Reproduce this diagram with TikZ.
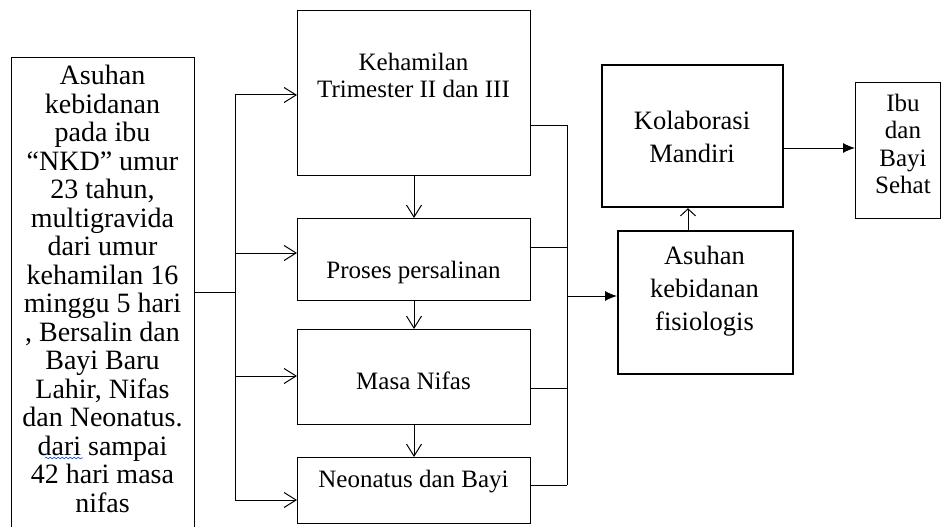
\documentclass[tikz,border=0pt]{standalone}
\usepackage{fontspec}
\setmainfont{Liberation Serif}
\usetikzlibrary{arrows.meta,decorations.pathmorphing}
\begin{document}
\begin{tikzpicture}[x=1pt,y=-1pt,
  conn/.style={line width=1pt},
  box/.style={draw, line width=1pt, inner sep=0pt, anchor=north west},
  thickbox/.style={draw, line width=2.2pt, inner sep=0pt, anchor=north west},
  openarr/.style={conn, -{Straight Barb[length=12pt,width=15pt,line width=1pt]}},
  fillarr/.style={conn, -{Latex[length=12pt,width=10pt]}},
  lefttxt/.style={align=center, font=\fontsize{28}{28.5}\selectfont},
  midtxt/.style={align=center, font=\fontsize{25}{27}\selectfont},
  righttxt/.style={align=center, font=\fontsize{26.5}{33}\selectfont},
  ibutxt/.style={align=center, font=\fontsize{25}{27.5}\selectfont},
]
\useasboundingbox (0,0) rectangle (943,527);

% left box
\node[box, minimum width=183pt, minimum height=490pt] (L) at (11,57) {};
\node[lefttxt] (Lt) at (102.5,289) {Asuhan\\kebidanan\\pada ibu\\“NKD” umur\\23 tahun,\\multigravida\\dari umur\\kehamilan 16\\minggu 5 hari\\, Bersalin dan\\Bayi Baru\\Lahir, Nifas\\dan Neonatus.\\dari sampai\\42 hari masa\\nifas};
\draw[blue!70!cyan, line width=0.6pt, decorate, decoration={snake, amplitude=0.8pt, segment length=4pt}] (45,458) -- (83,458);

% middle boxes
\node[box, minimum width=233pt, minimum height=165pt] (k1) at (297,10) {};
\node[box, minimum width=233pt, minimum height=82pt] (k2) at (297,218) {};
\node[box, minimum width=233pt, minimum height=95pt] (k3) at (297,329) {};
\node[box, minimum width=233pt, minimum height=66pt] (k4) at (297,457) {};
\node[midtxt] (k1t) at (413.5,75.5) {Kehamilan\\Trimester II dan III};
\node[midtxt] (k2t) at (413.5,272) {Proses persalinan};
\node[midtxt] (k3t) at (413.5,381) {Masa Nifas};
\node[midtxt] (k4t) at (413.5,482) {Neonatus dan Bayi};

% right boxes
\node[thickbox, minimum width=181pt, minimum height=142pt] (kol) at (601,64) {};
\node[righttxt] (kolt) at (692,136.5) {Kolaborasi\\Mandiri};
\node[thickbox, minimum width=175pt, minimum height=143pt] (af) at (617,230) {};
\node[righttxt] (aft) at (704.5,291.5) {Asuhan\\kebidanan\\fisiologis};
\node[box, minimum width=85pt, minimum height=136pt] (ibu) at (855,82) {};
\node[ibutxt] (ibut) at (903,144) {Ibu\\dan\\Bayi\\Sehat};

% left distribution
\coordinate (jn) at (235,292);
\coordinate (t1) at (235,95);
\coordinate (t2) at (235,253);
\coordinate (t3) at (235,376);
\coordinate (t4) at (235,500);
\draw[conn] (L.east |- jn) -- (jn);
\draw[conn] (t1) -- (t4);
\draw[openarr] (t1) -- (k1.west |- t1);
\draw[openarr] (t2) -- (k2.west |- t2);
\draw[openarr] (t3) -- (k3.west |- t3);
\draw[openarr] (t4) -- (k4.west |- t4);

% vertical sequence
\draw[openarr] (k1.south) -- (k2.north);
\draw[openarr] (k2.south) -- (k3.north);
\draw[openarr] (k3.south) -- (k4.north);

% right collection
\coordinate (r1) at (567,125);
\coordinate (r2) at (567,247);
\coordinate (r3) at (567,388);
\coordinate (r4) at (567,485);
\coordinate (ra) at (567,296);
\draw[conn] (k1.east |- r1) -- (r1);
\draw[conn] (k2.east |- r2) -- (r2);
\draw[conn] (k3.east |- r3) -- (r3);
\draw[conn] (k4.east |- r4) -- (r4);
\draw[conn] (r1) -- (r4);
\draw[fillarr] (ra) -- (af.west |- ra);

% up arrow and output
\coordinate (ax) at (688,0);
\draw[conn, -{Straight Barb[length=7pt,width=15pt,line width=1pt]}] (af.north -| ax) -- (kol.south -| ax);
\coordinate (ky) at (0,148);
\draw[fillarr] (kol.east |- ky) -- (ibu.west |- ky);
\end{tikzpicture}
\end{document}
